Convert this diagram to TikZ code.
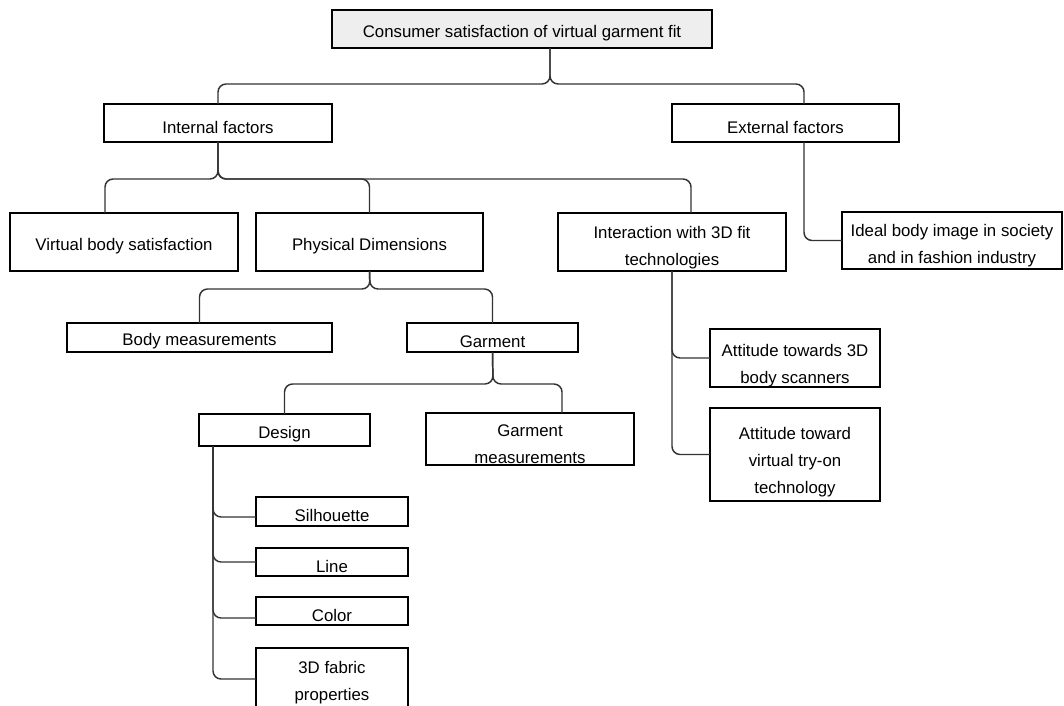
\documentclass[tikz,border=0pt]{standalone}
\usepackage{fontspec}
\setmainfont{Liberation Sans}
\usetikzlibrary{calc}
\definecolor{rootfill}{HTML}{EEEEEE}
\definecolor{linkgray}{HTML}{333333}
\tikzset{
  box/.style={draw=black, line width=1.3pt, inner sep=0pt, outer sep=0pt},
  txt/.style={align=center, inner sep=0pt, yshift=-3pt,
    font=\fontsize{12.6}{20.2}\selectfont},
  conn/.style={draw=linkgray, line width=1.1pt, rounded corners=6pt},
}
\begin{document}
\begin{tikzpicture}[x=0.75pt, y=-0.75pt]
\useasboundingbox (0,0) rectangle (1064,706);

% level 0
\node[box, fill=rootfill, minimum width=285pt, minimum height=28.5pt,
  label={[txt]center:{Consumer satisfaction of virtual garment fit}}] (root) at (522,29) {};

% level 1
\node[box, minimum width=171pt, minimum height=28.5pt,
  label={[txt]center:{Internal factors}}] (internal) at (218,123) {};
\node[box, minimum width=170.25pt, minimum height=28.5pt,
  label={[txt]center:{External factors}}] (external) at (785.5,123) {};

% level 2
\node[box, minimum width=171pt, minimum height=43.5pt,
  label={[txt]center:{Virtual body satisfaction}}] (virtual) at (124,242) {};
\node[box, minimum width=170.25pt, minimum height=43.5pt,
  label={[txt]center:{Physical Dimensions}}] (physical) at (369.5,242) {};
\node[box, minimum width=171pt, minimum height=43.5pt,
  label={[txt, yshift=-1pt]center:{Interaction with 3D fit\\technologies}}] (interaction) at (672,242) {};
\node[box, minimum width=165pt, minimum height=42.75pt,
  label={[txt, yshift=-1pt]center:{Ideal body image in society\\and in fashion industry}}] (ideal) at (952,240.5) {};

% level 3
\node[box, minimum width=198.75pt, minimum height=21.75pt,
  label={[txt]center:{Body measurements}}] (body) at (199.5,337.5) {};
\node[box, minimum width=128.25pt, minimum height=21.75pt,
  label={[txt]center:{Garment}}] (garment) at (492.5,337.5) {};
\node[box, minimum width=127.5pt, minimum height=43.5pt,
  label={[txt, yshift=-2.5pt]center:{Attitude towards 3D\\body scanners}}] (att1) at (795,358) {};
\node[box, minimum width=127.5pt, minimum height=69.75pt,
  label={[txt, yshift=-3pt]center:{Attitude toward\\virtual try-on\\technology}}] (att2) at (795,454.5) {};

% level 4
\node[box, minimum width=128.25pt, minimum height=24pt,
  label={[txt]center:{Design}}] (design) at (284.5,430) {};
\node[box, minimum width=156pt, minimum height=39pt,
  label={[txt, yshift=-1pt]center:{Garment\\measurements}}] (gmeas) at (530,439) {};

% level 5
\node[box, minimum width=114pt, minimum height=21.75pt,
  label={[txt]center:{Silhouette}}] (silh) at (332,511.5) {};
\node[box, minimum width=114pt, minimum height=21pt,
  label={[txt]center:{Line}}] (line) at (332,562) {};
\node[box, minimum width=114pt, minimum height=21pt,
  label={[txt]center:{Color}}] (color) at (332,611) {};
\node[box, minimum width=114pt, minimum height=46.5pt,
  label={[txt]center:{3D fabric\\properties}}] (fabric) at (332,679) {};

% junctions
\coordinate (j0) at (550,84);
\coordinate (j1) at (218,179);
\coordinate (j2) at (370,289);
\coordinate (j3) at (493,384);

% connectors
\draw[conn] (root.south -| j0) -- (j0) -| (internal.north);
\draw[conn] (root.south -| j0) -- (j0) -| ($(external.north)+(18.5,0)$);

\draw[conn] (internal.south) -- (j1) -| ($(virtual.north)+(-19,0)$);
\draw[conn] (internal.south) -- (j1) -| (physical.north);
\draw[conn] (internal.south) -- (j1) -| ($(interaction.north)+(19,0)$);

\draw[conn] ($(external.south)+(18.5,0)$) |- (ideal.west);

\draw[conn] (physical.south) -- (j2) -| (body.north);
\draw[conn] (physical.south) -- (j2) -| (garment.north);

\draw[conn] (garment.south) -- (j3) -| (design.north);
\draw[conn] (garment.south) -- (j3) -| ($(gmeas.north)+(32,0)$);

\draw[conn] (interaction.south) |- (att1.west);
\draw[conn] (interaction.south) |- (att2.west);

\draw[conn] ($(design.south west)+(14,0)$) |- ($(silh.west)+(0,5.5)$);
\draw[conn] ($(design.south west)+(14,0)$) |- (line.west);
\draw[conn] ($(design.south west)+(14,0)$) |- ($(color.west)+(0,7)$);
\draw[conn] ($(design.south west)+(14,0)$) |- (fabric.west);
\end{tikzpicture}
\end{document}
